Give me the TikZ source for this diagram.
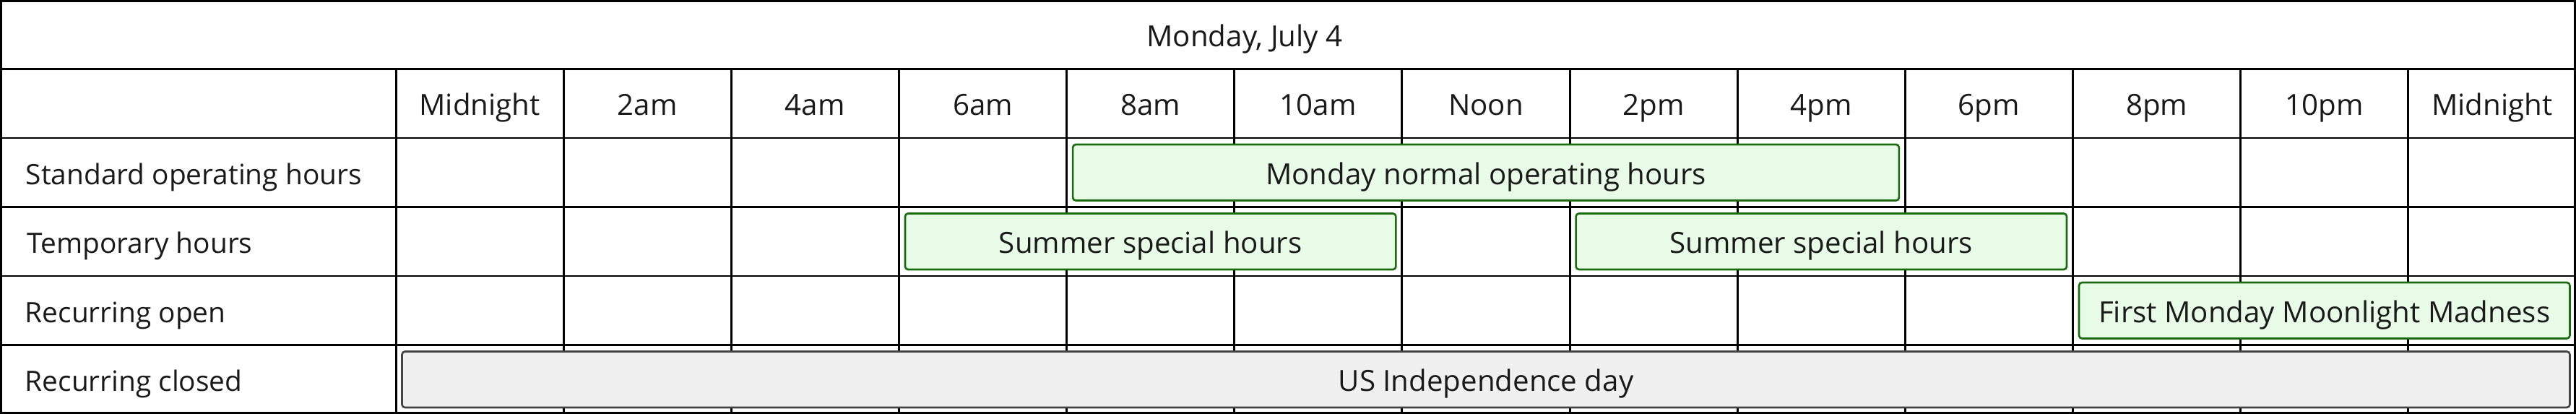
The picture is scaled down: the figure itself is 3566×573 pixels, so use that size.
\documentclass[tikz,border=0pt]{standalone}
\usepackage{fontspec}
\setmainfont{Open Sans}
\definecolor{txt}{HTML}{1A1A1A}
\definecolor{gfill}{HTML}{E8FBE6}
\definecolor{gdraw}{HTML}{1B6B10}
\definecolor{cfill}{HTML}{F0F0F0}
\definecolor{cdraw}{HTML}{444444}
\begin{document}
\begin{tikzpicture}[x=0.01cm,y=-0.01cm,
  grid/.style={line width=0.85pt,black},
  lbl/.style={font=\fontsize{11.45pt}{13pt}\selectfont,text=txt,inner sep=0pt,text height=0.33cm,text depth=0cm},
  rowlbl/.style={lbl,anchor=west,font=\fontsize{11.05pt}{13pt}\selectfont},
  evbox/.style={lbl,rounded corners=1.2pt,line width=0.75pt,minimum height=0.775cm,inner sep=0pt},
  openbox/.style={evbox,draw=gdraw,fill=gfill},
  closedbox/.style={evbox,draw=cdraw,fill=cfill}]
\def\cw{232.15}
\useasboundingbox (0,0) rectangle (3566,573);
\fill[white] (0,0) rectangle (3566,573);
\foreach \k in {1,...,5}{\draw[grid] (0,{95.5*\k}) -- (3566,{95.5*\k});}
\draw[grid] (548,95.5) -- (548,573);
\foreach \k in {1,...,12}{\draw[grid] ({548+\k*\cw},95.5) -- ({548+\k*\cw},573);}
\draw[grid] (1.5,1.5) rectangle (3564.5,571.5);
% title
\node[lbl] (title) at (1723,47.75) {Monday, July 4};
% header
\foreach \t [count=\i from 0] in {Midnight,2am,4am,6am,8am,10am,Noon,2pm,4pm,6pm,8pm,10pm,Midnight}{
  \node[lbl] (h\i) at ({548+(\i+0.5)*\cw},143.25) {\t};
}
% row labels
\node[rowlbl] (r1) at (35,238.75) {Standard operating hours};
\node[rowlbl] (r2) at (37,334.25) {Temporary hours};
\node[rowlbl] (r3) at (34,429.75) {Recurring open};
\node[rowlbl] (r4) at (34,525.25) {Recurring closed};
% events
\node[openbox,minimum width={(5*\cw-17)*0.01cm}] (std) at ({548+6.5*\cw},238.75) {Monday normal operating hours};
\node[openbox,minimum width={(3*\cw-17)*0.01cm}] (tmp1) at ({548+4.5*\cw},334.25) {Summer special hours};
\node[openbox,minimum width={(3*\cw-17)*0.01cm}] (tmp2) at ({548+8.5*\cw},334.25) {Summer special hours};
\node[openbox,minimum width={(3*\cw-17)*0.01cm}] (ropen) at ({548+11.5*\cw},429.75) {First Monday Moonlight Madness};
\node[closedbox,minimum width={(13*\cw-17)*0.01cm}] (rclosed) at ({548+6.5*\cw},525.25) {US Independence day};
\end{tikzpicture}
\end{document}
